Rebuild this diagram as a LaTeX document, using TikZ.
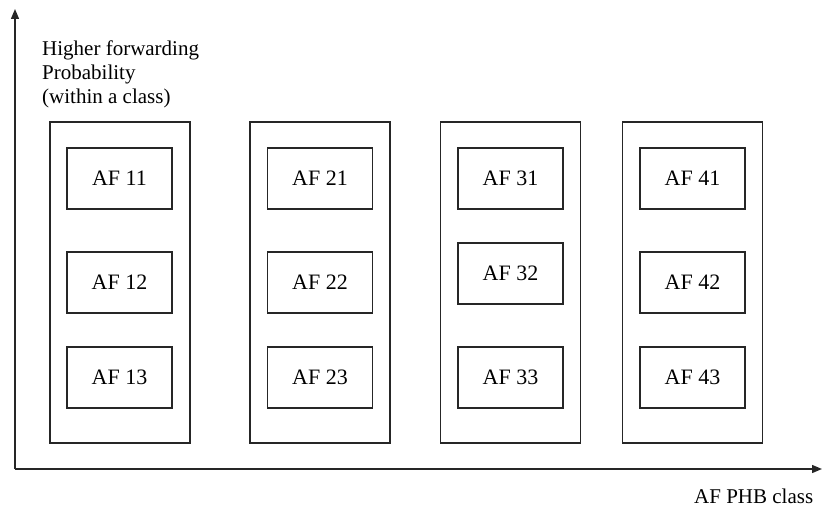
\documentclass[tikz,border=0pt]{standalone}
\usepackage{fontspec}
\setmainfont{Liberation Serif}
\usetikzlibrary{arrows.meta}
\tikzset{
classbox/.style={draw=black!85,line width=1.4pt,minimum width=140pt,minimum height=321pt,inner sep=0pt},
afbox/.style={draw=black!85,line width=1.4pt,minimum width=105pt,minimum height=61pt,inner sep=0pt,font=\fontsize{22}{26}\selectfont},
axisline/.style={-{Triangle[length=10pt,width=8pt]},line width=1.4pt,black!85},
axislabel/.style={inner sep=0pt,font=\fontsize{21}{24}\selectfont,align=left}
}
\begin{document}
\begin{tikzpicture}[x=1pt,y=-1pt]
\useasboundingbox (0,0) rectangle (822,508);
% axes
\coordinate (origin) at (15,469);
\coordinate (ytop) at (15,9);
\coordinate (xend) at (822,469);
\draw[axisline] (origin) -- (ytop);
\draw[axisline] (origin) -- (xend);
\node[axislabel,anchor=north west] (ylabel) at (42,41) {Higher forwarding\\Probability\\(within a class)};
\node[axislabel,anchor=base west] (xlabel) at (694,503) {AF PHB class};
% class 1
\node[classbox] (class1) at (120,282.5) {};
\node[afbox] (af11) at (119.5,178.5) {AF 11};
\node[afbox] (af12) at (119.5,282.5) {AF 12};
\node[afbox] (af13) at (119.5,377.5) {AF 13};
% class 2
\node[classbox] (class2) at (320,282.5) {};
\node[afbox] (af21) at (320,178.5) {AF 21};
\node[afbox] (af22) at (320,282.5) {AF 22};
\node[afbox] (af23) at (320,377.5) {AF 23};
% class 3
\node[classbox] (class3) at (510.5,282.5) {};
\node[afbox] (af31) at (510.5,178.5) {AF 31};
\node[afbox] (af32) at (510.5,273.5) {AF 32};
\node[afbox] (af33) at (510.5,377.5) {AF 33};
% class 4
\node[classbox] (class4) at (692.5,282.5) {};
\node[afbox] (af41) at (692.5,178.5) {AF 41};
\node[afbox] (af42) at (692.5,282.5) {AF 42};
\node[afbox] (af43) at (692.5,377.5) {AF 43};
\end{tikzpicture}
\end{document}
